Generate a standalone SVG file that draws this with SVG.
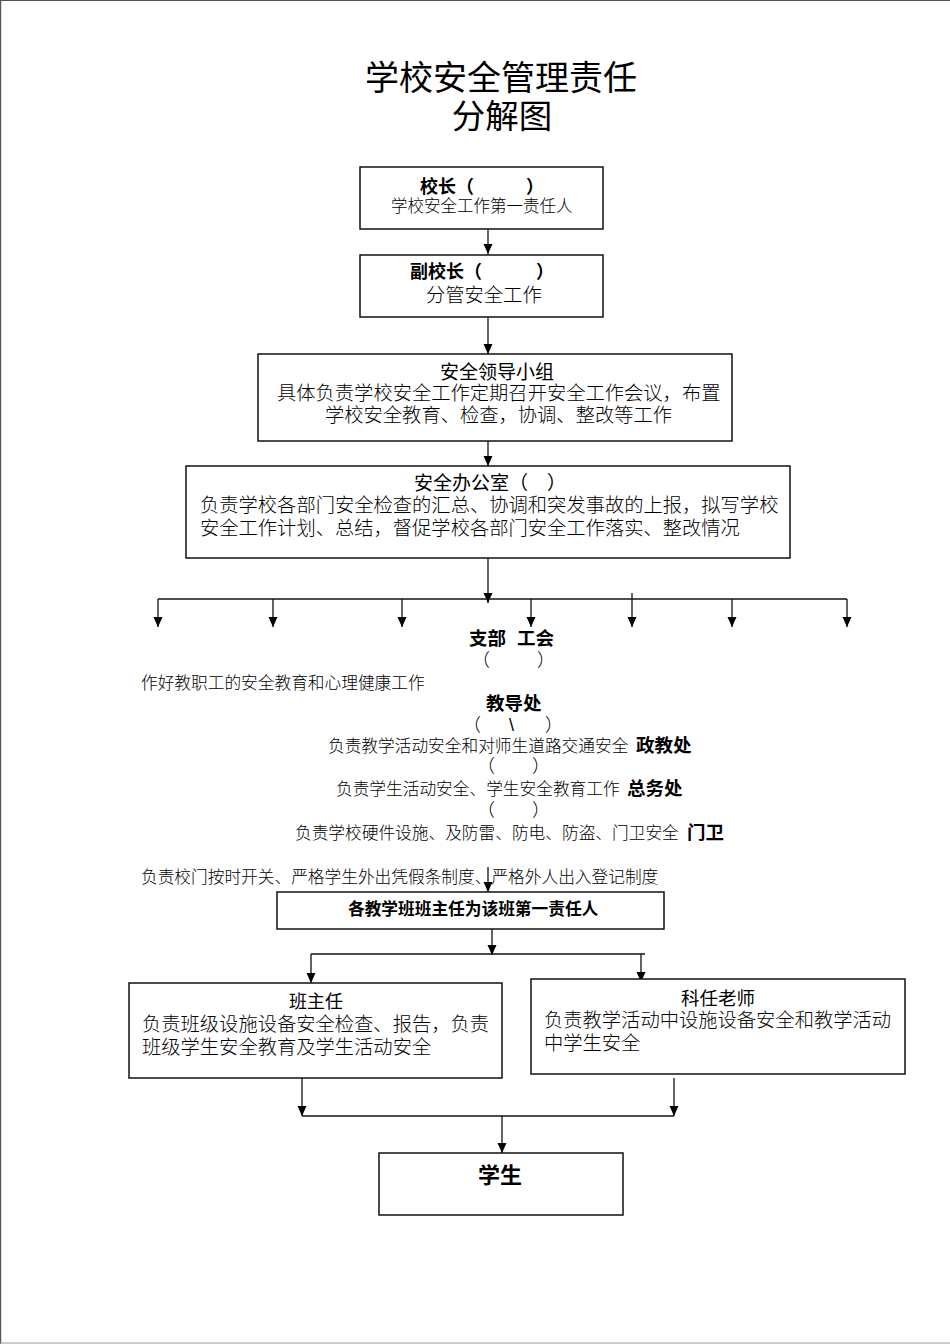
<svg xmlns="http://www.w3.org/2000/svg" width="950" height="1344" viewBox="0 0 950 1344">
<style>
text{font-family:"Liberation Sans","Noto Sans CJK SC",sans-serif;fill:#000}
.t{font-size:34px}
.b{font-weight:bold;font-size:18px}
.h{font-size:19px}
.r{font-size:19.3px;font-weight:300}
.s{font-size:16.7px;font-weight:300}
.p{font-size:18px;font-weight:300}
.box{fill:#fff;stroke:#111;stroke-width:1.5}
.ln{fill:none;stroke:#111;stroke-width:1.3}
</style>
<defs>
<marker id="arr" markerUnits="userSpaceOnUse" markerWidth="10" markerHeight="10" refX="10" refY="5" orient="auto" viewBox="0 0 10 10">
<path d="M0,0.5 L10,5 L0,9.5 Z" fill="#000"/>
</marker>
</defs>
<rect width="950" height="1344" fill="#fff"/>
<g id="page-border">
<line x1="0" y1="0.5" x2="950" y2="0.5" stroke="#555" stroke-width="1.2"/>
<line x1="0.6" y1="0" x2="0.6" y2="1344" stroke="#555" stroke-width="1.2"/>
<line x1="0" y1="1343" x2="950" y2="1343" stroke="#999" stroke-width="1.2"/>
</g>
<g id="title">
<text class="t" text-anchor="middle"><tspan x="501" y="90">学校安全管理责任</tspan><tspan x="502" y="127.5" style="font-size:33.5px">分解图</tspan></text>
</g>
<g id="connectors" class="ln">
<line x1="488" y1="229" x2="488" y2="254" marker-end="url(#arr)"/>
<line x1="488" y1="317" x2="488" y2="354" marker-end="url(#arr)"/>
<line x1="488" y1="441" x2="488" y2="466" marker-end="url(#arr)"/>
<line x1="488" y1="558" x2="488" y2="603" marker-end="url(#arr)"/>
<line x1="158" y1="599" x2="847" y2="599"/>
<line x1="158" y1="599" x2="158" y2="627" marker-end="url(#arr)"/>
<line x1="273" y1="599" x2="273" y2="627" marker-end="url(#arr)"/>
<line x1="402" y1="599" x2="402" y2="627" marker-end="url(#arr)"/>
<line x1="531" y1="599" x2="531" y2="627" marker-end="url(#arr)"/>
<line x1="632" y1="593" x2="632" y2="627" marker-end="url(#arr)"/>
<line x1="732" y1="599" x2="732" y2="627" marker-end="url(#arr)"/>
<line x1="847" y1="599" x2="847" y2="627" marker-end="url(#arr)"/>
<line x1="488" y1="867" x2="488" y2="892" marker-end="url(#arr)"/>
<line x1="492" y1="929" x2="492" y2="955" marker-end="url(#arr)"/>
<line x1="311" y1="954" x2="645" y2="954"/>
<line x1="311" y1="954" x2="311" y2="983" marker-end="url(#arr)"/>
<line x1="641" y1="954" x2="641" y2="982" marker-end="url(#arr)"/>
<line x1="302" y1="1078" x2="302" y2="1116" marker-end="url(#arr)"/>
<line x1="674" y1="1078" x2="674" y2="1116" marker-end="url(#arr)"/>
<line x1="302" y1="1116" x2="674" y2="1116"/>
<line x1="502" y1="1116" x2="502" y2="1153" marker-end="url(#arr)"/>
</g>
<g id="principal">
<rect class="box" x="360" y="167" width="243" height="62"/>
<text><tspan class="b" x="420" y="193">校长（</tspan><tspan class="b" x="526" y="193">）</tspan><tspan class="s" style="font-size:16.5px" x="391" y="212">学校安全工作第一责任人</tspan></text>
</g>
<g id="vice-principal">
<rect class="box" x="360" y="255" width="243" height="62"/>
<text><tspan class="b" x="410" y="278">副校长（</tspan><tspan class="b" x="536" y="278">）</tspan><tspan class="r" x="426" y="302">分管安全工作</tspan></text>
</g>
<g id="leading-group">
<rect class="box" x="258" y="354" width="474" height="87"/>
<text><tspan class="h" x="440" y="378.5">安全领导小组</tspan><tspan class="r" x="277" y="400">具体负责学校安全工作定期召开安全工作会议，布置</tspan><tspan class="r" x="325" y="422">学校安全教育、检查，协调、整改等工作</tspan></text>
</g>
<g id="safety-office">
<rect class="box" x="186" y="466" width="604" height="92"/>
<text><tspan class="h" x="414" y="490">安全办公室（</tspan><tspan class="h" x="547" y="490">）</tspan><tspan class="r" x="200" y="512">负责学校各部门安全检查的汇总、协调和突发事故的上报，拟写学校</tspan><tspan class="r" x="200" y="535">安全工作计划、总结，督促学校各部门安全工作落实、整改情况</tspan></text>
</g>
<g id="departments">
<text><tspan class="b" style="font-size:18.5px" x="469" y="645">支部</tspan><tspan class="b" style="font-size:18.5px" x="517" y="645">工会</tspan><tspan class="p" x="472" y="665.5">（</tspan><tspan class="p" x="537" y="665.5">）</tspan><tspan class="s" x="141" y="689">作好教职工的安全教育和心理健康工作</tspan><tspan class="b" style="font-size:18.5px" x="486" y="710">教导处</tspan><tspan class="p" x="463" y="730.5">（</tspan><tspan class="p" x="509" y="730.5">\</tspan><tspan class="p" x="545" y="730.5">）</tspan><tspan class="s" x="328" y="751.5">负责教学活动安全和对师生道路交通安全</tspan><tspan class="b" style="font-size:18.5px" x="636" y="751.5">政教处</tspan><tspan class="p" x="477" y="772">（</tspan><tspan class="p" x="532" y="772">）</tspan><tspan class="s" x="336" y="795">负责学生活动安全、学生安全教育工作</tspan><tspan class="b" style="font-size:18.5px" x="627" y="795">总务处</tspan><tspan class="p" x="477" y="816">（</tspan><tspan class="p" x="532" y="816">）</tspan><tspan class="s" x="295" y="839">负责学校硬件设施、及防雷、防电、防盗、门卫安全</tspan><tspan class="b" style="font-size:18.5px" x="687" y="839">门卫</tspan><tspan class="s" x="141" y="883">负责校门按时开关、严格学生外出凭假条制度、严格外人出入登记制度</tspan></text>
</g>
<g id="class-teachers">
<rect class="box" x="277" y="892" width="387" height="37"/>
<text x="348" y="915" style="font-size:16.7px;font-weight:bold">各教学班班主任为该班第一责任人</text>
</g>
<g id="head-teacher">
<rect class="box" x="129" y="983" width="373" height="95"/>
<text><tspan class="h" style="font-size:18px" x="316" y="1008" text-anchor="middle">班主任</tspan><tspan class="r" x="142" y="1031">负责班级设施设备安全检查、报告，负责</tspan><tspan class="r" x="142" y="1053.5">班级学生安全教育及学生活动安全</tspan></text>
</g>
<g id="subject-teacher">
<rect class="box" x="531" y="979" width="374" height="95"/>
<text><tspan class="h" style="font-size:18.5px" x="718" y="1005" text-anchor="middle">科任老师</tspan><tspan class="r" x="544" y="1027">负责教学活动中设施设备安全和教学活动</tspan><tspan class="r" x="544" y="1049.5">中学生安全</tspan></text>
</g>
<g id="students">
<rect class="box" x="379" y="1153" width="244" height="62"/>
<text x="500" y="1183" text-anchor="middle" style="font-size:22px;font-weight:bold">学生</text>
</g>
</svg>
